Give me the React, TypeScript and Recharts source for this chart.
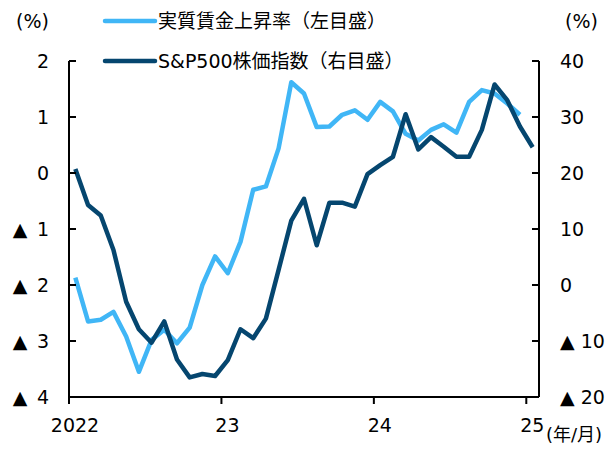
import React from 'react';
import { LineChart, Line, XAxis, YAxis, Legend } from 'recharts';

// ---- data ----
const yearTicks = [0, 12, 24, 36];
const yearLabels = ['2022', '23', '24', '25'];
const leftTicks = [-4, -3, -2, -1, 0, 1, 2];
const rightTicks = [-20, -10, 0, 10, 20, 30, 40];

// 実質賃金上昇率 (%), 2022/1 - 2024/12
const realWage = [
  -1.87, -2.65, -2.62, -2.48, -2.92, -3.55, -2.98, -2.8, -3.04, -2.76, -2.0, -1.49,
  -1.79, -1.23, -0.3, -0.24, 0.44, 1.62, 1.42, 0.82, 0.83, 1.04, 1.12, 0.95,
  1.27, 1.1, 0.7, 0.58, 0.77, 0.87, 0.72, 1.27, 1.48, 1.42, 1.24, 1.04,
];
// S&P500株価指数 (%), 2022/1 - 2025/1
const sp500 = [
  20.7, 14.3, 12.4, 6.25, -3.0, -7.9, -10.3, -6.5, -13.3, -16.5, -15.9, -16.25,
  -13.4, -7.9, -9.5, -6.0, 2.7, 11.5, 15.4, 7.1, 14.7, 14.7, 14.0, 19.8,
  21.4, 22.9, 30.5, 24.2, 26.4, 24.7, 22.9, 22.9, 27.7, 35.8, 33.0, 28.3, 24.6,
];
const seriesNames = ['実質賃金上昇率（左目盛）', 'S&P500株価指数（右目盛）'];
const seriesColors = ['#40B6F6', '#05466F'];

const data = sp500.map((v, i) => ({
  m: i + 0.5,
  wage: i < realWage.length ? realWage[i] : null,
  sp: v,
}));

const FONT = '"DejaVu Sans", "Noto Sans CJK JP", sans-serif';
const FS = 19;
const fmt = (v: number) => (v < 0 ? `▲\u2002${Math.abs(v)}` : `${v}`);

const LeftTick = (props: any) => {
  const { x, y, payload } = props;
  const axisX = x + 20;
  return (
    <g>
      <line x1={axisX} x2={axisX + 7} y1={y} y2={y} stroke="#000" strokeWidth={2} />
      <text x={x} y={y} dy="0.36em" textAnchor="end" fontSize={FS} fontFamily={FONT} fill="#000">
        {fmt(payload.value)}
      </text>
    </g>
  );
};

const RightTick = (props: any) => {
  const { x, y, payload } = props;
  const axisX = x - 21;
  return (
    <g>
      <line x1={axisX - 7} x2={axisX} y1={y} y2={y} stroke="#000" strokeWidth={2} />
      <text x={x} y={y} dy="0.36em" textAnchor="start" fontSize={FS} fontFamily={FONT} fill="#000">
        {payload.value < 0 ? `▲ ${Math.abs(payload.value)}` : `${payload.value}`}
      </text>
    </g>
  );
};

const BottomTick = (props: any) => {
  const { x, y, payload } = props;
  const idx = yearTicks.indexOf(payload.value);
  return (
    <text x={x + 6} y={y} dy="0.36em" textAnchor="middle" fontSize={FS} fontFamily={FONT} fill="#000">
      {idx >= 0 ? yearLabels[idx] : ''}
    </text>
  );
};

const Overlay = () => (
  <svg width={611} height={449} style={{ display: 'block', pointerEvents: 'none' }}>
    <text x={49} y={21} dy="0.36em" textAnchor="end" fontSize={FS} fontFamily={FONT} fill="#000">(%)</text>
    <text x={565} y={21} dy="0.36em" textAnchor="start" fontSize={FS} fontFamily={FONT} fill="#000">(%)</text>
    <text x={546} y={435} dy="0.36em" textAnchor="start" fontSize={18} fontFamily={FONT} fill="#000">(年/月)</text>
    {seriesNames.map((name, i) => (
      <g key={name}>
        <line x1={105} x2={155} y1={21 + i * 40} y2={21 + i * 40} stroke={seriesColors[i]} strokeWidth={4.5} strokeLinecap="round" />
        <text x={158} y={21 + i * 40} dy="0.36em" fontSize={FS} fontFamily={FONT} fill="#000">{name}</text>
      </g>
    ))}
  </svg>
);

export default function App() {
  return (
    <div style={{ position: 'absolute', left: 0, top: 0, width: 611, height: 449, background: '#fff' }}>
      <LineChart
        width={611}
        height={449}
        data={data}
        margin={{ top: 61, right: 0, bottom: 0, left: 0 }}
        style={{ fontFamily: FONT }}
      >
        <XAxis
          dataKey="m"
          type="number"
          domain={[0, 37]}
          ticks={yearTicks}
          height={52}
          tickSize={7}
          tickMargin={21}
          axisLine={{ stroke: '#000', strokeWidth: 2 }}
          tickLine={{ stroke: '#000', strokeWidth: 2 }}
          tick={<BottomTick />}
          interval={0}
        />
        <YAxis
          yAxisId="left"
          orientation="left"
          width={69}
          domain={[-4, 2]}
          ticks={leftTicks}
          allowDataOverflow
          tickSize={0}
          tickMargin={20}
          tickLine={false}
          axisLine={{ stroke: '#000', strokeWidth: 2 }}
          tick={<LeftTick />}
          interval={0}
        />
        <YAxis
          yAxisId="right"
          orientation="right"
          width={72}
          domain={[-20, 40]}
          ticks={rightTicks}
          allowDataOverflow
          tickSize={0}
          tickMargin={21}
          tickLine={false}
          axisLine={{ stroke: '#000', strokeWidth: 2 }}
          tick={<RightTick />}
          interval={0}
        />
        <Line
          yAxisId="left"
          type="linear"
          dataKey="wage"
          name={seriesNames[0]}
          stroke={seriesColors[0]}
          strokeWidth={4.5}
          strokeLinejoin="round"
          dot={false}
          activeDot={false}
          isAnimationActive={false}
        />
        <Line
          yAxisId="right"
          type="linear"
          dataKey="sp"
          name={seriesNames[1]}
          stroke={seriesColors[1]}
          strokeWidth={4.5}
          strokeLinejoin="round"
          dot={false}
          activeDot={false}
          isAnimationActive={false}
        />
        <Legend
          layout="vertical"
          align="center"
          verticalAlign="middle"
          wrapperStyle={{ left: 0, top: 0, width: 611, height: 449, pointerEvents: 'none' }}
          content={() => <Overlay />}
        />
      </LineChart>
    </div>
  );
}
